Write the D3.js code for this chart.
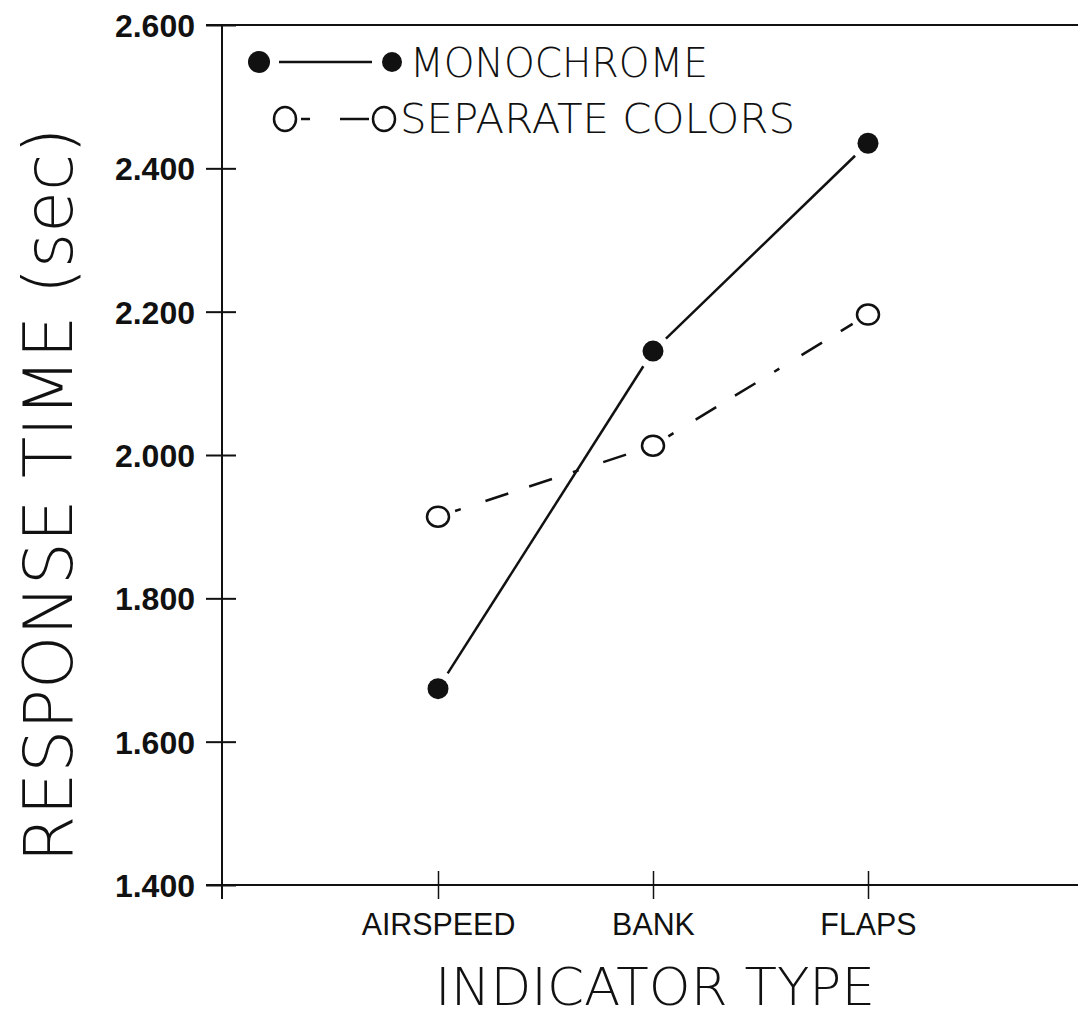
<!DOCTYPE html>
<html>
<head>
<meta charset="utf-8">
<script src="https://cdn.jsdelivr.net/npm/d3@7"></script>
<style>
  body { margin: 0; background: #fff; }
  svg { display: block; }
</style>
</head>
<body>
<div id="chart"></div>
<script>
// data
var categories = ["AIRSPEED", "BANK", "FLAPS"];
var monochrome = [1.674, 2.145, 2.435];
var separateColors = [1.914, 2.013, 2.196];
var yTicks = [1.4, 1.6, 1.8, 2.0, 2.2, 2.4, 2.6];

function init(){

    var w = 1078;
    var h = 1018;

    var svg = d3.select("#chart")
                .append("svg")
                .attr("width", w)
                .attr("height", h);

    // scales
    var x = d3.scalePoint()
              .domain(categories)
              .range([438, 868]);
    var y = d3.scaleLinear()
              .domain([1.4, 2.6])
              .range([885, 25]);

    var ink = "#111";
    var thin = "DejaVu Sans, sans-serif";

    // frame lines: left axis, top line, bottom line
    svg.append("line")
        .attr("x1", 222).attr("x2", 222)
        .attr("y1", y(2.6)).attr("y2", y(1.4) + 14)
        .attr("stroke", ink).attr("stroke-width", 2);
    svg.append("line")
        .attr("x1", 206).attr("x2", w)
        .attr("y1", y(2.6)).attr("y2", y(2.6))
        .attr("stroke", ink).attr("stroke-width", 2);
    svg.append("line")
        .attr("x1", 206).attr("x2", w)
        .attr("y1", y(1.4)).attr("y2", y(1.4))
        .attr("stroke", ink).attr("stroke-width", 2);

    // y axis ticks + labels
    var yAxis = d3.axisLeft(y)
                  .tickValues(yTicks)
                  .tickSize(16)
                  .tickFormat(d3.format(".3f"));
    var gy = svg.append("g")
                .attr("transform", "translate(222,0)")
                .call(yAxis);
    gy.select(".domain").remove();
    gy.selectAll(".tick line")
        .attr("x1", 14)
        .attr("stroke", ink)
        .attr("stroke-width", 2);
    gy.selectAll(".tick text")
        .attr("x", -27)
        .attr("dy", "0.36em")
        .attr("fill", ink)
        .attr("font-family", "Liberation Sans, Arial, sans-serif")
        .attr("font-size", "32px")
        .attr("font-weight", "bold")
        .attr("text-anchor", "end");

    // x axis ticks + labels
    var xAxis = d3.axisBottom(x).tickSize(14);
    var gx = svg.append("g")
                .attr("transform", "translate(0," + y(1.4) + ")")
                .call(xAxis);
    gx.select(".domain").remove();
    gx.selectAll(".tick line")
        .attr("y1", -14)
        .attr("stroke", ink)
        .attr("stroke-width", 1.5);
    gx.selectAll(".tick text")
        .attr("y", 50)
        .attr("dy", 0)
        .attr("transform", "scale(0.95,1)")
        .attr("fill", ink)
        .attr("font-family", "Liberation Sans, Arial, sans-serif")
        .attr("font-size", "32px")
        .attr("text-anchor", "middle");

    // lines between markers (gapped at each marker like the original)
    function gapSegments(values){
        var segs = [];
        for (var i = 0; i < values.length - 1; i++) {
            var x1 = x(categories[i]), y1 = y(values[i]);
            var x2 = x(categories[i + 1]), y2 = y(values[i + 1]);
            var len = Math.sqrt((x2 - x1) * (x2 - x1) + (y2 - y1) * (y2 - y1));
            var ux = (x2 - x1) / len, uy = (y2 - y1) / len;
            var gap = 18;
            segs.push({x1: x1 + ux * gap, y1: y1 + uy * gap,
                       x2: x2 - ux * gap, y2: y2 - uy * gap});
        }
        return segs;
    }

    svg.selectAll(".mono-line")
        .data(gapSegments(monochrome))
        .enter()
        .append("line")
        .attr("class", "mono-line")
        .attr("x1", function(d){ return d.x1; })
        .attr("y1", function(d){ return d.y1; })
        .attr("x2", function(d){ return d.x2; })
        .attr("y2", function(d){ return d.y2; })
        .attr("stroke", ink)
        .attr("stroke-width", 2.5);

    svg.selectAll(".sep-line")
        .data(gapSegments(separateColors))
        .enter()
        .append("line")
        .attr("class", "sep-line")
        .attr("x1", function(d){ return d.x1; })
        .attr("y1", function(d){ return d.y1; })
        .attr("x2", function(d){ return d.x2; })
        .attr("y2", function(d){ return d.y2; })
        .attr("stroke", ink)
        .attr("stroke-width", 2.5)
        .attr("stroke-dasharray", "6,26,24,22,24,22");

    // markers
    svg.selectAll(".mono-dot")
        .data(monochrome)
        .enter()
        .append("circle")
        .attr("class", "mono-dot")
        .attr("cx", function(d, i){ return x(categories[i]); })
        .attr("cy", function(d){ return y(d); })
        .attr("r", 10.5)
        .attr("fill", ink);

    svg.selectAll(".sep-dot")
        .data(separateColors)
        .enter()
        .append("ellipse")
        .attr("class", "sep-dot")
        .attr("cx", function(d, i){ return x(categories[i]); })
        .attr("cy", function(d){ return y(d); })
        .attr("rx", 11)
        .attr("ry", 10)
        .attr("fill", "none")
        .attr("stroke", ink)
        .attr("stroke-width", 2.5);

    // legend
    var lg = svg.append("g");
    lg.append("circle").attr("cx", 259).attr("cy", 62).attr("r", 11).attr("fill", ink);
    lg.append("line").attr("x1", 279).attr("x2", 372).attr("y1", 62).attr("y2", 62)
        .attr("stroke", ink).attr("stroke-width", 2.5);
    lg.append("circle").attr("cx", 392).attr("cy", 62).attr("r", 10).attr("fill", ink);
    lg.append("text").attr("x", 410).attr("y", 77)
        .text("MONOCHROME")
        .attr("textLength", 298)
        .attr("lengthAdjust", "spacingAndGlyphs")
        .attr("font-family", thin)
        .attr("font-weight", "200")
        .attr("font-size", "40px")
        .attr("fill", ink);

    lg.append("ellipse").attr("cx", 285).attr("cy", 119).attr("rx", 11).attr("ry", 12)
        .attr("fill", "none").attr("stroke", ink).attr("stroke-width", 2.5);
    lg.append("line").attr("x1", 301).attr("x2", 310).attr("y1", 119).attr("y2", 119)
        .attr("stroke", ink).attr("stroke-width", 2.5);
    lg.append("line").attr("x1", 340).attr("x2", 369).attr("y1", 119).attr("y2", 119)
        .attr("stroke", ink).attr("stroke-width", 2.5);
    lg.append("ellipse").attr("cx", 384).attr("cy", 119).attr("rx", 11).attr("ry", 12)
        .attr("fill", "none").attr("stroke", ink).attr("stroke-width", 2.5);
    lg.append("text").attr("x", 400).attr("y", 133)
        .text("SEPARATE COLORS")
        .attr("textLength", 395)
        .attr("lengthAdjust", "spacingAndGlyphs")
        .attr("font-family", thin)
        .attr("font-weight", "200")
        .attr("font-size", "40px")
        .attr("fill", ink);

    // axis titles
    svg.append("text")
        .text("RESPONSE TIME (sec)")
        .attr("transform", "translate(72," + 495 + ") rotate(-90)")
        .attr("text-anchor", "middle")
        .attr("textLength", 735)
        .attr("lengthAdjust", "spacingAndGlyphs")
        .attr("font-family", thin)
        .attr("font-weight", "200")
        .attr("font-size", "68px")
        .attr("fill", ink);

    svg.append("text")
        .text("INDICATOR TYPE")
        .attr("x", 655)
        .attr("y", 1005)
        .attr("text-anchor", "middle")
        .attr("textLength", 440)
        .attr("lengthAdjust", "spacingAndGlyphs")
        .attr("font-family", thin)
        .attr("font-weight", "200")
        .attr("font-size", "52px")
        .attr("fill", ink);
}

window.onload = init;
</script>
</body>
</html>
